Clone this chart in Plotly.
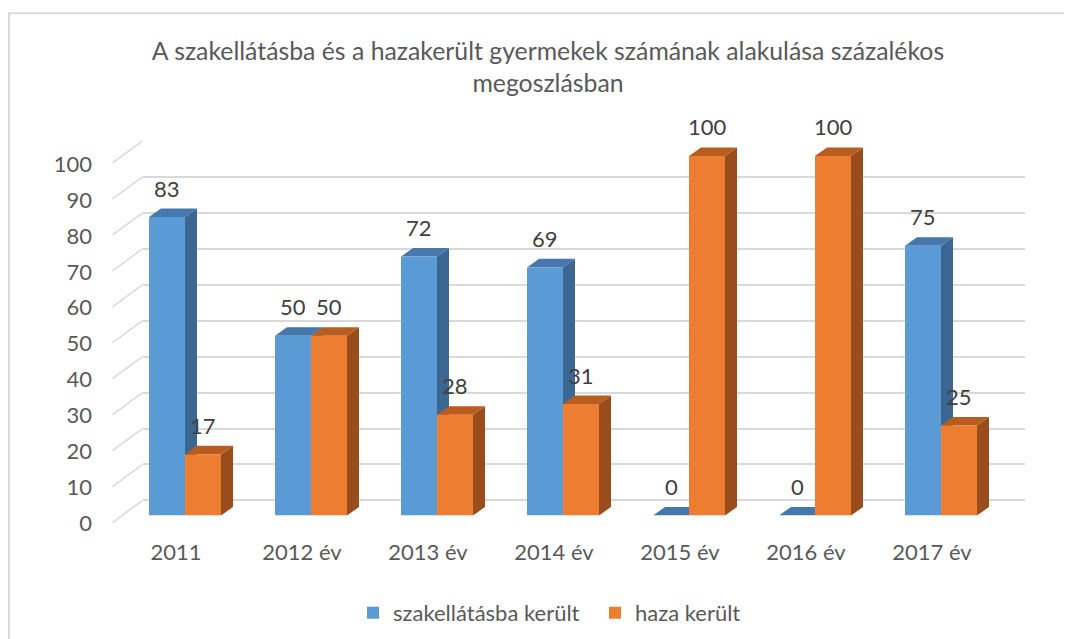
import numpy as np
import plotly.graph_objects as go

# ---------------- data ----------------
categories = ["2011", "2012 év", "2013 év", "2014 év", "2015 év", "2016 év", "2017 év"]
szakellatas = [83, 50, 72, 69, 0, 0, 75]
haza = [17, 50, 28, 31, 100, 100, 25]
series_names = ["szakellátásba került", "haza került"]
y_ticks = list(range(0, 101, 10))
title_text = "A szakellátásba és a hazakerült gyermekek számának alakulása százalékos<br>megoszlásban"

# ---------------- style / geometry ----------------
OFF = 8                     # default page margin of the html body
VS = 1.0385                 # vertical layout scale
W, H = 1072, 639
FONT = "Lato"
TXT = "#595959"
GRID = "#D9D9D9"
front_col = ["#5B9BD5", "#ED7D31"]
side_col = ["#3C6792", "#9A4D1C"]
top_col = ["#4677AD", "#B85C20"]


def py(y):
    """layout y position (px from top of figure)"""
    return y * VS - OFF


def px(x):
    return x - OFF


PX_CAT = 126.0              # pixels per category
PX_UNIT = 3.58 * VS         # pixels per value unit
front_left = px(122.0)      # left edge of bar front plane
front_zero = py(513.0)      # value 0 on bar front plane
bar_depth = (12.0, 8.5 * VS)      # bar extrusion (right, up) px
wall_off = (20.5, 15.0 * VS)      # back wall offset from bar front plane
floor_off = (-9.5, 7.0 * VS)      # front floor edge offset from bar front plane
bw = 36.0 / PX_CAT          # bar width in category units
y2_max = 115

n = len(categories)
pos = np.arange(n)
series = [szakellatas, haza]

fig = go.Figure()

# back wall (first subplot: x / y) -> only gridlines
fig.add_trace(go.Scatter(x=[0], y=[0], xaxis="x", yaxis="y", mode="markers",
                         marker=dict(opacity=0), showlegend=False, hoverinfo="skip"))

# bars on front plane (x2 / y2)
for k, (vals, name) in enumerate(zip(series, series_names)):
    fig.add_trace(go.Bar(
        x=pos, y=vals, name=name, xaxis="x2", yaxis="y2",
        width=bw, offset=(-bw if k == 0 else 0.0),
        marker=dict(color=front_col[k], line=dict(width=0)),
        hovertemplate="%{y}<extra>" + name + "</extra>",
    ))

# 3D faces derived from data
dx = bar_depth[0] / PX_CAT
dy = bar_depth[1] / PX_UNIT
shapes = []
annotations = []
for i in range(n):
    for k, vals in enumerate(series):
        v = vals[i]
        x0 = pos[i] + (-bw if k == 0 else 0.0)
        x1 = x0 + bw
        side = f"M {x1},0 L {x1+dx},{dy} L {x1+dx},{v+dy} L {x1},{v} Z"
        top = f"M {x0},{v} L {x0+dx},{v+dy} L {x1+dx},{v+dy} L {x1},{v} Z"
        shapes.append(dict(type="path", path=side, xref="x2", yref="y2", layer="below",
                           fillcolor=side_col[k], line=dict(width=0)))
        shapes.append(dict(type="path", path=top, xref="x2", yref="y2", layer="below",
                           fillcolor=top_col[k], line=dict(width=0)))
        annotations.append(dict(x=(x0 + x1) / 2, y=v + dy, xref="x2", yref="y2",
                                text=str(v), showarrow=False, yanchor="bottom", yshift=5,
                                font=dict(family=FONT, size=22, color="#404040")))

# left side wall diagonals (from front floor edge to back wall)
wall_x_left = front_left + wall_off[0]
floor_x_left = front_left + floor_off[0]
for t in y_ticks:
    yb = front_zero - wall_off[1] - t * PX_UNIT
    yf = front_zero + floor_off[1] - t * PX_UNIT
    shapes.append(dict(type="line", xref="paper", yref="paper", layer="below",
                       x0=floor_x_left / W, y0=1 - yf / H, x1=wall_x_left / W, y1=1 - yb / H,
                       line=dict(color=GRID, width=1.5)))

# chart frame
shapes.append(dict(type="rect", xref="paper", yref="paper", layer="below",
                   x0=px(9) / W, y0=-0.1, x1=1.05, y1=1 - py(13) / H,
                   line=dict(color="#D9D9D9", width=2), fillcolor="rgba(0,0,0,0)"))

wall_bottom = front_zero - wall_off[1]
fig.update_layout(
    width=W, height=H,
    margin=dict(l=0, r=0, t=0, b=0),
    paper_bgcolor="white", plot_bgcolor="rgba(0,0,0,0)",
    font=dict(family=FONT, color=TXT, size=22),
    title=dict(text=title_text, x=px(548) / W, xanchor="center", y=1 - py(58) / H,
               yanchor="top", font=dict(family=FONT, size=24.8, color=TXT)),
    barmode="overlay",
    showlegend=True,
    legend=dict(orientation="h", x=px(353) / W, xanchor="left", y=1 - py(610) / H,
                yanchor="middle", entrywidth=197, entrywidthmode="pixels",
                font=dict(family=FONT, size=22, color=TXT), bgcolor="rgba(0,0,0,0)"),
    xaxis=dict(domain=[wall_x_left / W, (wall_x_left + n * PX_CAT) / W], range=[0, 1],
               visible=False, fixedrange=True),
    yaxis=dict(domain=[1 - wall_bottom / H, 1 - (wall_bottom - 100 * PX_UNIT) / H],
               range=[0, 100], tickvals=y_ticks, showticklabels=False,
               showgrid=True, gridcolor=GRID, gridwidth=1.5,
               zeroline=True, zerolinecolor=GRID, zerolinewidth=1.5, showline=False),
    xaxis2=dict(domain=[front_left / W, (front_left + n * PX_CAT) / W], range=[-0.5, n - 0.5],
                anchor="y2", tickvals=list(pos), ticktext=categories, showgrid=False,
                zeroline=False, showline=False, ticks="", ticklabelstandoff=21,
                ticklabelshift=-9, tickfont=dict(family=FONT, size=22, color=TXT)),
    yaxis2=dict(domain=[1 - front_zero / H, 1 - (front_zero - y2_max * PX_UNIT) / H],
                range=[0, y2_max], anchor="x2", tickvals=y_ticks, showgrid=False,
                zeroline=False, showline=False, ticks="", ticklabelstandoff=29,
                ticklabelshift=8, tickfont=dict(family=FONT, size=22, color=TXT)),
    shapes=shapes,
    annotations=annotations,
)

fig.write_html("out.html", config={"displayModeBar": False})
